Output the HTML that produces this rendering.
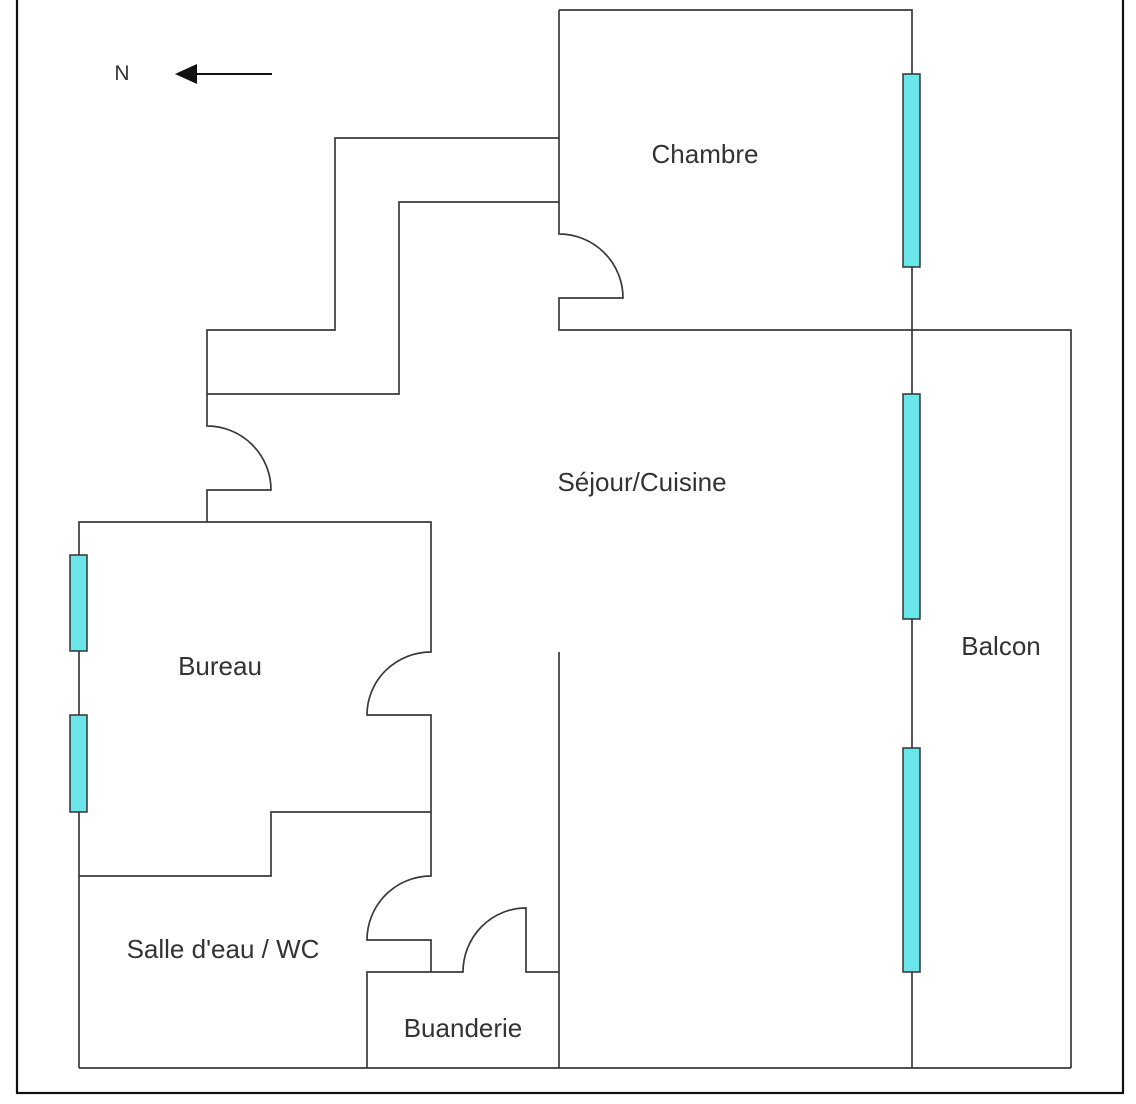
<!DOCTYPE html>
<html>
<head>
<meta charset="utf-8">
<style>
  html, body { margin: 0; padding: 0; background: #ffffff; }
  body { width: 1136px; height: 1104px; overflow: hidden; }
  svg { display: block; }
  text { font-family: "Liberation Sans", Arial, sans-serif; fill: #333333; }
</style>
</head>
<body>
<svg width="1136" height="1104" viewBox="0 0 1136 1104" xmlns="http://www.w3.org/2000/svg">
  <rect x="0" y="0" width="1136" height="1104" fill="#ffffff"/>
  <!-- outer frame -->
  <rect x="17" y="-20" width="1106" height="1113" fill="none" stroke="#111111" stroke-width="2.2"/>

  <g fill="none" stroke="#3a3a3a" stroke-width="1.7" stroke-linejoin="miter">
    <!-- Chambre -->
    <path d="M559,10 H912 V1068"/>
    <path d="M559,10 V234 A64,64 0 0 1 623,298 H559 V330 H1071 V1068"/>
    <!-- corridor -->
    <path d="M559,138 H335 V330 H207 V426 A64,64 0 0 1 271,490 H207 V522"/>
    <path d="M559,202 H399 V394 H207"/>
    <!-- Bureau -->
    <path d="M79,1068 V522 H431 V652 A64,63 0 0 0 367,715 H431 V876 A64,64 0 0 0 367,940 H431 V972"/>
    <path d="M79,876 H271 V812 H431"/>
    <!-- Buanderie -->
    <path d="M367,1068 V972 H463 A63,64 0 0 1 526,908 V972 H559"/>
    <path d="M559,652 V1068"/>
    <!-- bottom wall -->
    <path d="M79,1068 H1071"/>
  </g>

  <!-- windows -->
  <g fill="#6ae6ea" stroke="#333333" stroke-width="1.5">
    <rect x="903" y="74" width="17" height="193"/>
    <rect x="903" y="394" width="17" height="225"/>
    <rect x="903" y="748" width="17" height="224"/>
    <rect x="70" y="555" width="17" height="96"/>
    <rect x="70" y="715" width="17" height="97"/>
  </g>

  <!-- north arrow -->
  <line x1="272" y1="74" x2="192" y2="74" stroke="#111111" stroke-width="2"/>
  <polygon points="175,74 197,64 197,84" fill="#111111"/>
  <text x="122" y="80" font-size="21" text-anchor="middle">N</text>

  <!-- labels -->
  <text x="705" y="163" font-size="26" text-anchor="middle">Chambre</text>
  <text x="642" y="491" font-size="26" text-anchor="middle">Séjour/Cuisine</text>
  <text x="1001" y="655" font-size="26" text-anchor="middle">Balcon</text>
  <text x="220" y="675" font-size="26" text-anchor="middle">Bureau</text>
  <text x="223" y="958" font-size="26" text-anchor="middle">Salle d'eau / WC</text>
  <text x="463" y="1037" font-size="26" text-anchor="middle">Buanderie</text>
</svg>
</body>
</html>
